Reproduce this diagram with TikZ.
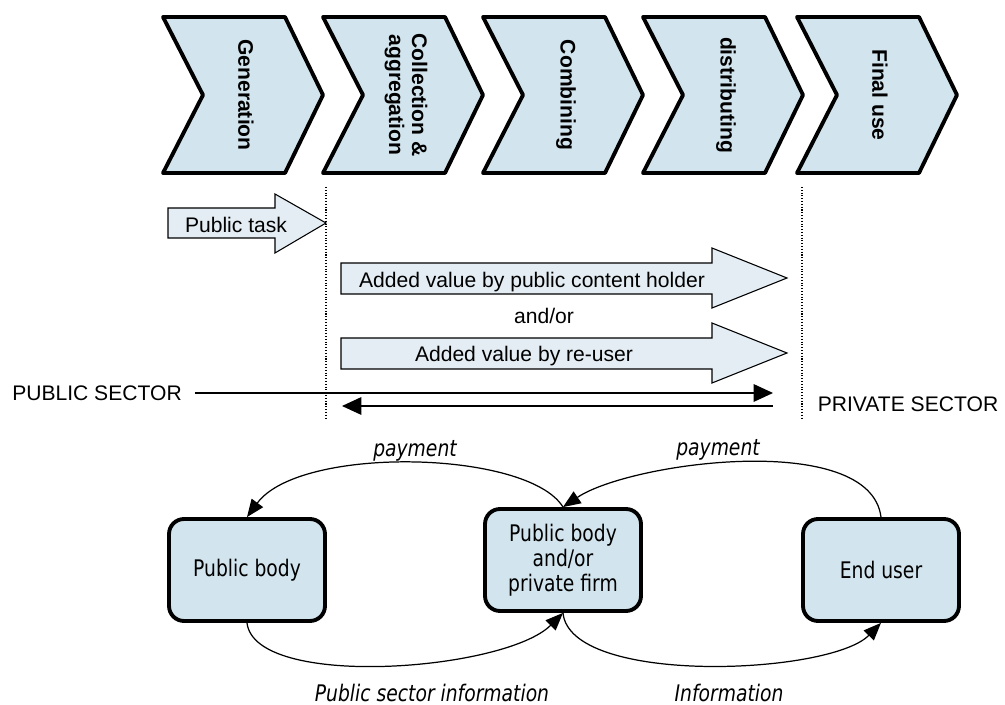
\documentclass[tikz,border=0pt]{standalone}
\usepackage{fontspec}
\setmainfont{Liberation Sans}
\newfontfamily\boxfont[FakeStretch=0.82]{DejaVu Sans}
\usetikzlibrary{arrows.meta}
\definecolor{stagefill}{RGB}{210,229,238}
\definecolor{arrowfill}{RGB}{227,237,243}
\tikzset{
  stage/.style={draw, line width=2.2pt, line join=round, fill=stagefill},
  stagetext/.style={rotate=-90, align=center, font=\fontsize{12}{13}\selectfont\bfseries},
  blockarrow/.style={draw, line width=0.6pt, fill=arrowfill},
  plain/.style={font=\fontsize{12}{14}\selectfont},
  sector/.style={line width=0.7pt, -{Triangle[length=11pt,width=10pt]}},
  divider/.style={densely dotted, line width=0.6pt},
  actor/.style={draw, line width=2.2pt, rounded corners=0.3cm, fill=stagefill, minimum width=3.12cm, minimum height=2.04cm, align=center, font=\boxfont\fontsize{13}{14.2}\selectfont},
  flow/.style={line width=0.7pt, -{Triangle[length=10pt,width=8pt]}},
  flowlabel/.style={font=\boxfont\itshape\fontsize{13}{15}\selectfont}
}
\begin{document}
\begin{tikzpicture}[x=0.02cm, y=-0.02cm]
\useasboundingbox (0,0) rectangle (1005,705);
% value chain
\foreach \x/\name/\txt in {163/gen/Generation, 323/coll/{Collection \&\\aggregation}, 483/comb/Combining, 643/dist/distributing, 797/final/Final use} {
  \draw [stage] (\x,17) -- ++(122,0) -- ++(38,78) -- ++(-38,78) -- ++(-122,0) -- ++(40,-78) -- cycle;
  \node [stagetext] (\name) at (\x+83,95) {\txt};
}
\draw [divider] (326,187) -- (326,418);
\draw [divider] (802,187) -- (802,418);
% block arrows
\draw [blockarrow] (168,208) -- (275,208) -- (275,194) -- (326,223) -- (275,253) -- (275,238) -- (168,238) -- cycle;
\node [plain] (task) at (236,225) {Public task};
\draw [blockarrow] (341,263) -- (712,263) -- (712,248) -- (787,278) -- (712,308) -- (712,294) -- (341,294) -- cycle;
\node [plain] (holder) at (532,282) {Added value by public content holder};
\node [plain] (andor) at (544,316) {and/or};
\draw [blockarrow] (341,338) -- (712,338) -- (712,323) -- (787,353) -- (712,383) -- (712,369) -- (341,369) -- cycle;
\node [plain] (reuser) at (524,356) {Added value by re-user};
% sectors
\node [plain] (pubsec) at (97,393) {PUBLIC SECTOR};
\node [plain] (privsec) at (908,404) {PRIVATE SECTOR};
\coordinate (pubend) at (773,393);
\coordinate (retstart) at (773,406);
\coordinate (retend) at (342,406);
\draw [sector, shorten <=4pt] (pubsec) -- (pubend);
\draw [sector] (retstart) -- (retend);
% actors
\node [actor] (pubbody) at (247,570) {Public body};
\node [actor] (firm) at (563,560) {Public body\\and/or\\private firm};
\node [actor] (enduser) at (881,570) {End user};
\draw [flow] (firm.north) .. controls (528,450) and (300,445) .. (pubbody.north);
\draw [flow] (enduser.north) .. controls (870,430) and (630,462) .. (firm.north);
\draw [flow] (pubbody.south) .. controls (255,690) and (505,671) .. (firm.south);
\draw [flow] (firm.south) .. controls (570,686) and (830,675) .. (enduser.south);
\node [flowlabel] (payleft) at (415,451) {payment};
\node [flowlabel] (payright) at (718,450) {payment};
\node [flowlabel] (psi) at (432,693) {Public sector information};
\node [flowlabel] (info) at (729,693) {Information};
\end{tikzpicture}
\end{document}
